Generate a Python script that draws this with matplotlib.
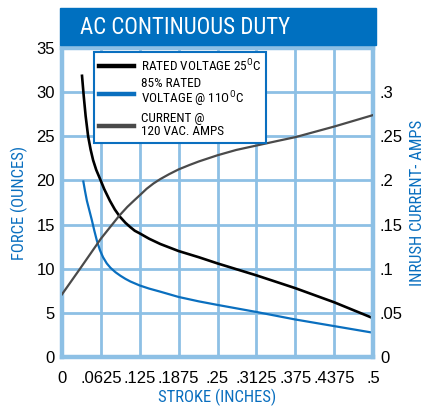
import matplotlib
matplotlib.use("Agg")
from matplotlib import pyplot as plt
from matplotlib.lines import Line2D
from matplotlib.patches import Rectangle

# stroke in inches, force in ounces
rated_x = [0.032, 0.035, 0.038, 0.042, 0.046, 0.05, 0.055, 0.061, 0.068, 0.077, 0.085, 0.093, 0.102,
           0.11, 0.117, 0.125, 0.14, 0.158, 0.1875, 0.22, 0.25, 0.3125, 0.375, 0.4375, 0.5]
rated_y = [32.0, 29.5, 27.3, 25.0, 23.5, 22.3, 21.2, 20.2, 19.0, 17.7, 16.7, 15.9, 15.2,
           14.7, 14.3, 14.0, 13.4, 12.8, 12.0, 11.3, 10.6, 9.25, 7.8, 6.2, 4.4]

hot_x = [0.034, 0.037, 0.040, 0.044, 0.048, 0.052, 0.056, 0.061, 0.066, 0.072, 0.078, 0.086, 0.094,
         0.102, 0.11, 0.125, 0.14, 0.158, 0.1875, 0.22, 0.25, 0.3125, 0.375, 0.4375, 0.5]
hot_y = [20.0, 18.8, 17.7, 16.6, 15.5, 14.3, 13.2, 12.1, 11.3, 10.6, 10.1, 9.6, 9.2,
         8.85, 8.55, 8.1, 7.75, 7.4, 6.8, 6.3, 5.9, 5.1, 4.25, 3.5, 2.75]

# inrush current, amps
amps_x = [0.0, 0.029, 0.0625, 0.092, 0.105, 0.117, 0.127, 0.136, 0.147, 0.158, 0.172, 0.1875,
          0.205, 0.22, 0.25, 0.28, 0.3125, 0.345, 0.375, 0.4375, 0.5]
amps_y = [0.071, 0.100, 0.134, 0.160, 0.170, 0.178, 0.1845, 0.1905, 0.1965, 0.2015, 0.207, 0.2125,
          0.2175, 0.2215, 0.2285, 0.2345, 0.2395, 0.2445, 0.249, 0.261, 0.274]

stroke_ticks = [0, 0.0625, 0.125, 0.1875, 0.25, 0.3125, 0.375, 0.4375, 0.5]
stroke_labels = ['0', '.0625', '.125', '.1875', '.25', '.3125', '.375', '.4375', '.5']
force_ticks = [0, 5, 10, 15, 20, 25, 30, 35]
amp_ticks = [0, 0.05, 0.1, 0.15, 0.2, 0.25, 0.3]
amp_labels = ['0', '.05', '.1', '.15', '.2', '.25', '.3']

BLUE = '#0a6fbf'
GRID = '#8dc0e5'
NARROW = ['Roboto Condensed', 'Roboto', 'DejaVu Sans']

plt.rcParams['font.family'] = ['Liberation Sans', 'DejaVu Sans']

fig = plt.figure(figsize=(4.28, 4.07), dpi=100)
W, H = 428, 407
ax = fig.add_axes([62 / W, (H - 357) / H, 311 / W, 309 / H])

ax.plot(rated_x, rated_y, color='black', lw=1.9, solid_capstyle='butt')
ax.plot(hot_x, hot_y, color=BLUE, lw=1.6, solid_capstyle='butt')
ax.set_xlim(0, 0.5)
ax.set_ylim(0, 35)
ax.set_xticks(stroke_ticks, stroke_labels)
ax.set_yticks(force_ticks)
ax.grid(True, color=GRID, lw=2.0)
ax.set_axisbelow(True)
for sp in ax.spines.values():
    sp.set_color(GRID)
    sp.set_linewidth(3.2)
ax.tick_params(length=0, labelsize=12)
ax.tick_params(axis='x', pad=10)
ax.tick_params(axis='y', pad=5)

ax2 = ax.twinx()
ax2.plot(amps_x, amps_y, color='#4a4a4a', lw=1.6)
ax2.set_ylim(0, 0.35)
ax2.set_yticks(amp_ticks, amp_labels)
ax2.tick_params(length=0, labelsize=12, pad=5)
for sp in ax2.spines.values():
    sp.set_visible(False)

ax.set_xlabel('STROKE (INCHES)', color=BLUE, fontsize=12, family=NARROW, labelpad=2)
ax.set_ylabel('FORCE (OUNCES)', color=BLUE, fontsize=12, family=NARROW, labelpad=6)
ax2.set_ylabel('INRUSH CURRENT- AMPS', color=BLUE, fontsize=12, family=NARROW, labelpad=5)

handles = [
    Line2D([], [], color='black', lw=3.2),
    Line2D([], [], color=BLUE, lw=3.2),
    Line2D([], [], color='#4a4a4a', lw=3.2),
]
labels = [
    r'RATED VOLTAGE 25$^{\mathregular{O}}$C',
    '85% RATED\n' + r'VOLTAGE @ 11O$^{\mathregular{O}}$C',
    'CURRENT @\n120 VAC. AMPS',
]
leg = ax2.legend(handles, labels, loc='upper left', bbox_to_anchor=(0.103, 0.987),
                 borderaxespad=0, fancybox=False, framealpha=1, edgecolor=BLUE,
                 prop={'family': NARROW, 'size': 9.5}, handlelength=2.6,
                 handletextpad=0.55, labelspacing=0.25, borderpad=0.4)
leg.get_frame().set_linewidth(1.5)
for t in leg.get_texts():
    t.set_linespacing(0.95)

fig.patches.append(Rectangle((60 / W, (H - 45) / H), 316 / W, 37 / H,
                             transform=fig.transFigure, color='#0070c0', zorder=5))
fig.text(80 / W, (H - 27) / H, 'AC CONTINUOUS DUTY', color='white', fontsize=16.5,
         family=NARROW, va='center', ha='left', zorder=6)

fig.savefig('out.png', dpi=100)
